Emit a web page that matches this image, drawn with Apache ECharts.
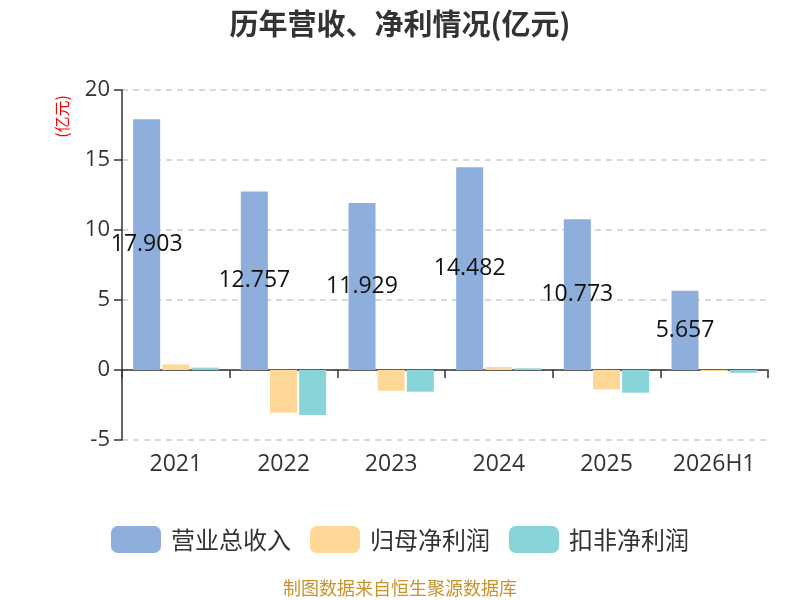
<!DOCTYPE html>
<html>
<head>
<meta charset="utf-8">
<title>历年营收、净利情况</title>
<script src="https://cdn.jsdelivr.net/npm/echarts@6/dist/echarts.min.js"></script>
<style>
  html, body { margin: 0; padding: 0; background: #fff; }
  #chart { width: 800px; height: 600px; }
</style>
</head>
<body>
<div id="chart"></div>
<script>
// 年份
var years = ['2021', '2022', '2023', '2024', '2025', '2026H1'];
// 营业总收入
var revenue = [17.903, 12.757, 11.929, 14.482, 10.773, 5.657];
// 归母净利润
var netProfit = [0.40, -3.05, -1.48, 0.21, -1.38, -0.08];
// 扣非净利润
var deductProfit = [0.17, -3.22, -1.55, 0.12, -1.62, -0.20];

var FONT = '"Noto Sans CJK SC", "Noto Sans", sans-serif';
var NUM_FONT = '"Open Sans", "Noto Sans CJK SC", sans-serif';

var chart = echarts.init(document.getElementById('chart'));
var option = {
  textStyle: { fontFamily: FONT },
  title: {
    text: '历年营收、净利情况(亿元)',
    left: 'center',
    top: 4,
    textStyle: { fontSize: 29, fontWeight: 'bold', color: '#333', fontFamily: FONT }
  },
  legend: {
    top: 521,
    left: 'center',
    itemWidth: 50,
    itemHeight: 27,
    itemGap: 19,
    textStyle: { fontSize: 24, color: '#333', fontFamily: FONT, padding: [0, 0, 0, 5] },
    data: ['营业总收入', '归母净利润', '扣非净利润']
  },
  grid: { left: 122, right: 32, top: 90, bottom: 160 },
  xAxis: {
    type: 'category',
    data: years,
    axisLine: { onZero: true, lineStyle: { color: '#333', width: 1.5 } },
    axisTick: { show: true, length: 8, lineStyle: { color: '#333', width: 1.5 } },
    axisLabel: { fontSize: 23, color: '#333', margin: 13, fontFamily: NUM_FONT }
  },
  yAxis: {
    type: 'value',
    min: -5,
    max: 20,
    interval: 5,
    axisLine: { show: true, lineStyle: { color: '#333', width: 1.5 } },
    axisTick: { show: true, length: 8, lineStyle: { color: '#333', width: 1.5 } },
    axisLabel: { fontSize: 22, color: '#333', margin: 12, fontFamily: NUM_FONT },
    splitLine: { lineStyle: { color: '#ccc', type: [6, 5], width: 1.5 } }
  },
  graphic: [
    {
      type: 'text',
      left: 54,
      top: 95,
      rotation: Math.PI / 2,
      style: { text: '(亿元)', fill: '#ff0000', fontSize: 16, fontFamily: FONT }
    },
    {
      type: 'text',
      left: 'center',
      top: 579,
      style: { text: '制图数据来自恒生聚源数据库', fill: '#c9922a', fontSize: 18, fontFamily: FONT }
    }
  ],
  series: [
    {
      name: '营业总收入',
      type: 'bar',
      data: revenue,
      barWidth: 27,
      barGap: '8%',
      itemStyle: { color: '#8eaedb' },
      label: { show: true, position: 'inside', color: '#111', fontSize: 23, fontFamily: NUM_FONT }
    },
    {
      name: '归母净利润',
      type: 'bar',
      data: netProfit,
      barWidth: 27,
      barGap: '8%',
      itemStyle: { color: '#ffd897' }
    },
    {
      name: '扣非净利润',
      type: 'bar',
      data: deductProfit,
      barWidth: 27,
      barGap: '8%',
      itemStyle: { color: '#87d5d9' }
    }
  ]
};
chart.setOption(option);
</script>
</body>
</html>
